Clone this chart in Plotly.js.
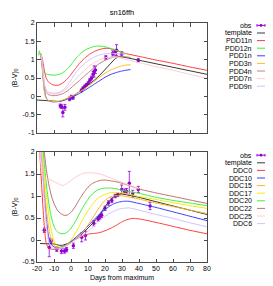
<!DOCTYPE html>
<html>
<head>
<meta charset="utf-8">
<script src="https://cdn.plot.ly/plotly-3.0.1.min.js"></script>
<style>html,body{margin:0;padding:0;background:#fff;}#chart{width:273px;height:286px;}</style>
</head>
<body>
<div id="chart"></div>
<script>
// ---------- tick labels ----------
const xTickVals = [-20, -10, 0, 10, 20, 30, 40, 50, 60, 70, 80];
const xTickText = ['-20', '-10', '0', '10', '20', '30', '40', '50', '60', '70', '80'];
const yTopTickVals = [-1, -0.5, 0, 0.5, 1, 1.5, 2];
const yTopTickText = ['-1', '-0.5', '0', '0.5', '1', '1.5', '2'];
const yBotTickVals = [-0.5, 0, 0.5, 1, 1.5, 2];
const yBotTickText = ['-0.5', '0', '0.5', '1', '1.5', '2'];

// ---------- top panel: observations ----------
const obsTopDays = [-6.3, -5.6, -4.8, -3.6, -0.8, 0.2, 1.2, 6.1, 7.1, 8.1, 9.1, 10.1, 11.1, 12.1, 13, 13.6, 14.4, 20.5, 24.5, 25.8, 26.8, 29.8, 39.6];
const obsTopBV   = [-0.26, -0.28, -0.44, -0.3, -0.07, -0.02, -0.03, 0.16, 0.22, 0.27, 0.31, 0.36, 0.44, 0.5, 0.6, 0.68, 0.72, 1.06, 1.17, 1.2, 1.26, 1.15, 0.98];
const obsTopErr  = [0.05, 0.05, 0.12, 0.08, 0.05, 0.05, 0.05, 0.04, 0.04, 0.04, 0.04, 0.04, 0.05, 0.05, 0.08, 0.15, 0.1, 0.05, 0.07, 0.08, 0.15, 0.07, 0.05];

// ---------- top panel: template and PDD models ----------
const templateTopDays = [-20, -15, -10, -7, -4, -1, 2, 5, 8, 11, 14, 17, 20, 23, 26, 28, 30, 33, 40, 50, 60, 70, 80];
const templateTopBV   = [-0.1, -0.12, -0.14, -0.14, -0.1, -0.04, 0.03, 0.13, 0.23, 0.34, 0.45, 0.58, 0.72, 0.88, 1.03, 1.08, 1.08, 1.05, 0.99, 0.89, 0.79, 0.7, 0.6];

const pdd11nDays = [-17.8, -17, -16.2, -15.3, -14.5, -13, -11, -9, -7, -5, -3, -1, 1, 3, 5, 8, 11, 14, 17, 20, 23, 26, 29, 32, 40, 50, 60, 70, 80];
const pdd11nBV   = [1.17, 1.05, 0.85, 0.62, 0.49, 0.38, 0.32, 0.3, 0.31, 0.36, 0.44, 0.54, 0.66, 0.78, 0.9, 1.04, 1.15, 1.23, 1.28, 1.31, 1.3, 1.26, 1.21, 1.17, 1.09, 0.99, 0.9, 0.8, 0.71];

const pdd12nDays = [-19, -18.6, -18.2, -17.6, -17, -16.2, -15, -13, -11, -9, -7, -5, -3, -1, 1, 3, 5, 7, 9, 11, 13, 15, 17, 19, 21, 23, 25, 27, 29, 31];
const pdd12nBV   = [1.12, 1.24, 1.15, 1.05, 0.85, 0.7, 0.62, 0.59, 0.58, 0.58, 0.6, 0.64, 0.71, 0.8, 0.92, 1.04, 1.14, 1.22, 1.28, 1.32, 1.35, 1.37, 1.37, 1.36, 1.34, 1.31, 1.28, 1.25, 1.22, 1.19];

const pdd1nDays = [-17.6, -17, -16.3, -15.5, -14.5, -13, -11, -9, -7, -5, -3, -1, 1, 3, 5, 8, 11, 14, 17, 20, 23, 26, 29, 32, 35];
const pdd1nBV   = [1.1, 0.85, 0.45, 0.12, -0.05, -0.12, -0.15, -0.15, -0.14, -0.12, -0.09, -0.05, -0.01, 0.03, 0.08, 0.16, 0.25, 0.34, 0.43, 0.52, 0.59, 0.64, 0.68, 0.71, 0.73];

const pdd3nDays = [-17.6, -17, -16.3, -15.5, -14.5, -13, -11, -9, -7, -5, -3, -1, 1, 3, 5, 8, 11, 14, 17, 20, 23, 26, 29, 32, 35];
const pdd3nBV   = [1.08, 0.8, 0.4, 0.08, -0.07, -0.12, -0.14, -0.14, -0.13, -0.1, -0.07, -0.03, 0.02, 0.07, 0.12, 0.21, 0.31, 0.42, 0.53, 0.63, 0.71, 0.77, 0.82, 0.85, 0.86];

const pdd4nDays = [-17.6, -17, -16.3, -15.5, -14.5, -13, -11, -9, -7, -5, -3, -1, 1, 3, 5, 8, 11, 14, 17, 20, 23, 26, 29, 32, 35];
const pdd4nBV   = [1.1, 0.9, 0.55, 0.25, 0.1, 0.04, 0.02, 0.02, 0.04, 0.07, 0.12, 0.19, 0.27, 0.35, 0.43, 0.56, 0.68, 0.8, 0.9, 0.98, 1.04, 1.08, 1.09, 1.08, 1.06];

const pdd7nDays = [-17.6, -17, -16.3, -15.5, -14.5, -13, -11, -9, -7, -5, -3, -1, 1, 3, 5, 8, 11, 14, 17, 20, 23, 26, 29, 32, 40, 50, 60, 70, 80];
const pdd7nBV   = [1.12, 0.95, 0.6, 0.3, 0.15, 0.08, 0.06, 0.06, 0.08, 0.13, 0.2, 0.28, 0.38, 0.48, 0.58, 0.71, 0.83, 0.93, 1.0, 1.05, 1.07, 1.07, 1.05, 1.01, 0.92, 0.81, 0.71, 0.6, 0.49];

const pdd9nDays = [-17.6, -17, -16.3, -15.5, -14.5, -13, -11, -9, -7, -5, -3, -1, 1, 3, 5, 8, 11, 14, 17, 20, 23, 26, 29, 32];
const pdd9nBV   = [1.12, 0.95, 0.62, 0.32, 0.17, 0.11, 0.09, 0.09, 0.11, 0.16, 0.25, 0.38, 0.52, 0.66, 0.76, 0.9, 1.0, 1.08, 1.13, 1.16, 1.17, 1.17, 1.16, 1.15];

// ---------- bottom panel: observations ----------
const obsBotDays = [-15.7, -12.8, -11.6, -8.4, -5.6, -3.8, -2.6, 1.4, 6.3, 8.5, 13.4, 16, 17, 18, 20, 22, 24, 26, 27.5, 29.8, 31.5, 32.7, 34.3, 36.3, 39.6, 46.5];
const obsBotBV   = [0.22, -0.17, -0.03, -0.21, -0.25, -0.25, -0.22, -0.13, 0.06, 0.1, 0.38, 0.48, 0.52, 0.56, 0.72, 0.84, 0.9, 1.0, 1.03, 1.15, 1.1, 1.11, 1.29, 1.05, 1.15, 0.77];
const obsBotErr  = [0.05, 0.21, 0.05, 0.05, 0.06, 0.05, 0.05, 0.06, 0.1, 0.1, 0.06, 0.05, 0.05, 0.05, 0.05, 0.05, 0.05, 0.04, 0.04, 0.1, 0.06, 0.06, 0.27, 0.08, 0.07, 0.08];

// ---------- bottom panel: template and DDC models ----------
const templateBotDays = [-18.2, -14, -10, -7, -5, -2, 1, 4, 7, 10, 13, 16, 19, 22, 25, 28, 30, 33, 40, 50, 60, 70, 80];
const templateBotBV   = [-0.08, -0.08, -0.09, -0.12, -0.12, -0.08, -0.02, 0.06, 0.16, 0.27, 0.39, 0.53, 0.7, 0.86, 0.98, 1.04, 1.05, 1.03, 0.97, 0.87, 0.77, 0.67, 0.58];

const ddc0Days = [-19, -18.5, -17.5, -16.5, -15.5, -14.5, -13, -11, -9, -7, -5, -3, -1, 2, 5, 8, 11, 14, 17, 20, 23, 26, 29, 32, 36, 40, 50, 60, 70, 80];
const ddc0BV   = [2.5, 2.1, 1.4, 0.75, 0.22, -0.08, -0.19, -0.21, -0.21, -0.2, -0.17, -0.13, -0.08, 0.0, 0.06, 0.11, 0.14, 0.15, 0.17, 0.21, 0.26, 0.32, 0.39, 0.45, 0.49, 0.48, 0.4, 0.31, 0.22, 0.14];

const ddc10Days = [-18, -17.3, -16.5, -15.5, -14.5, -13.5, -12.4, -11, -9, -7, -5, -3, -1, 1, 4, 7, 10, 13, 16, 19, 22, 25, 28, 31, 34, 40, 50, 60, 70, 80];
const ddc10BV   = [2.4, 2.0, 1.5, 0.95, 0.5, 0.15, -0.05, -0.13, -0.17, -0.17, -0.15, -0.11, -0.06, 0.0, 0.1, 0.2, 0.32, 0.44, 0.56, 0.66, 0.75, 0.82, 0.86, 0.88, 0.88, 0.83, 0.74, 0.64, 0.54, 0.44];

const ddc15Days = [-18, -17.3, -16.5, -15.5, -14.5, -13.5, -12.5, -11.5, -10.4, -9, -7, -5, -3, -1, 1, 4, 7, 10, 13, 16, 19, 22, 25, 28, 31, 35, 40, 50, 60, 70, 80];
const ddc15BV   = [2.4, 2.0, 1.6, 1.1, 0.7, 0.38, 0.15, 0.0, -0.1, -0.16, -0.18, -0.17, -0.14, -0.09, -0.03, 0.07, 0.18, 0.34, 0.52, 0.7, 0.86, 0.96, 1.0, 1.01, 1.0, 0.97, 0.93, 0.84, 0.76, 0.68, 0.6];

const ddc17Days = [-18, -17, -16, -15, -14, -13, -12, -11, -10, -8.5, -7, -5.5, -4, -2, 0, 2, 4, 6, 8, 10, 12, 14, 16, 18, 21, 24, 27, 30, 34, 40, 50, 60, 70, 80];
const ddc17BV   = [2.5, 2.0, 1.6, 1.2, 0.85, 0.55, 0.3, 0.12, -0.02, -0.12, -0.16, -0.17, -0.15, -0.09, 0.0, 0.12, 0.25, 0.4, 0.54, 0.67, 0.78, 0.88, 0.95, 1.0, 1.05, 1.08, 1.08, 1.07, 1.04, 0.99, 0.92, 0.85, 0.78, 0.72];

const ddc20Days = [-17.5, -16.3, -15, -14, -13, -12, -11, -10, -9, -7, -5, -3, -1, 1, 3, 5, 7, 9, 11, 13, 15, 18, 21, 24, 27, 30, 34, 40, 50, 60, 70, 80];
const ddc20BV   = [2.6, 2.0, 1.45, 1.1, 0.82, 0.6, 0.43, 0.31, 0.23, 0.16, 0.14, 0.16, 0.22, 0.32, 0.45, 0.6, 0.74, 0.87, 0.98, 1.06, 1.12, 1.17, 1.18, 1.18, 1.16, 1.13, 1.1, 1.06, 0.97, 0.9, 0.84, 0.78];

const ddc22Days = [-17, -15.7, -14.5, -13, -11.5, -10, -8, -6, -4, -2, 0, 2, 4, 6, 8, 10, 12, 15, 18, 21, 24, 27, 30, 34, 40, 50, 60, 70, 80];
const ddc22BV   = [2.6, 2.0, 1.6, 1.25, 1.0, 0.83, 0.68, 0.6, 0.56, 0.57, 0.63, 0.73, 0.86, 0.99, 1.1, 1.2, 1.27, 1.33, 1.36, 1.36, 1.34, 1.32, 1.29, 1.24, 1.16, 1.07, 0.99, 0.91, 0.83];

const ddc25Days = [-18.5, -17.8, -17, -16, -14, -12, -10, -8, -6, -4.5, -3, -1, 1, 3, 5, 8, 11, 14, 17, 20, 24, 28, 32, 36, 40];
const ddc25BV   = [2.1, 1.75, 1.5, 1.42, 1.39, 1.37, 1.33, 1.29, 1.25, 1.24, 1.27, 1.32, 1.38, 1.44, 1.48, 1.52, 1.53, 1.52, 1.5, 1.46, 1.4, 1.34, 1.28, 1.22, 1.17];

const ddc6Days = [-18, -17.3, -16.5, -15.5, -14.5, -13.5, -12.5, -11, -9, -7, -5, -3, -1, 1, 4, 7, 10, 13, 16, 19, 22, 25, 28, 31, 34, 40, 50, 60, 70, 80];
const ddc6BV   = [2.5, 2.0, 1.4, 0.8, 0.35, 0.05, -0.1, -0.18, -0.2, -0.2, -0.18, -0.14, -0.09, -0.04, 0.04, 0.11, 0.2, 0.3, 0.41, 0.51, 0.59, 0.65, 0.7, 0.72, 0.73, 0.68, 0.58, 0.49, 0.39, 0.3];

// ---------- series names and colours ----------
const obsColor = '#9400d3';
const topNames   = ['template', 'PDD11n', 'PDD12n', 'PDD1n', 'PDD3n', 'PDD4n', 'PDD7n', 'PDD9n'];
const topColors  = ['#3a3a3a', '#ff3c3c', '#3cf03c', '#3c3cff', '#ffbe28', '#c08080', '#ffcccc', '#d4c2ff'];
const topX = [templateTopDays, pdd11nDays, pdd12nDays, pdd1nDays, pdd3nDays, pdd4nDays, pdd7nDays, pdd9nDays];
const topY = [templateTopBV, pdd11nBV, pdd12nBV, pdd1nBV, pdd3nBV, pdd4nBV, pdd7nBV, pdd9nBV];

const botNames   = ['template', 'DDC0', 'DDC10', 'DDC15', 'DDC17', 'DDC20', 'DDC22', 'DDC25', 'DDC6'];
const botColors  = ['#3a3a3a', '#ff3c3c', '#3c3cff', '#ffb428', '#f0f000', '#3cf03c', '#c07070', '#ffcccc', '#d4c2ff'];
const botX = [templateBotDays, ddc0Days, ddc10Days, ddc15Days, ddc17Days, ddc20Days, ddc22Days, ddc25Days, ddc6Days];
const botY = [templateBotBV, ddc0BV, ddc10BV, ddc15BV, ddc17BV, ddc20BV, ddc22BV, ddc25BV, ddc6BV];

// ---------- build traces ----------
const traces = [];
function addModels(xs, ys, colors, names, xa, ya) {
  for (let i = 0; i < xs.length; i++) {
    const isTemplate = i === 0;
    traces.push({
      x: xs[i], y: ys[i], name: names[i], type: 'scatter', mode: 'lines',
      xaxis: xa, yaxis: ya, hoverinfo: 'skip',
      line: {color: colors[i], width: 1, shape: isTemplate ? 'linear' : 'spline', smoothing: 0.6}
    });
  }
}
// draw order: models after template? gnuplot draws obs first, then template, then models
function addObs(x, y, e, xa, ya) {
  traces.push({
    x: x, y: y, name: 'obs', type: 'scatter', mode: 'markers', xaxis: xa, yaxis: ya,
    marker: {color: obsColor, size: 3.5, symbol: 'circle'},
    error_y: {type: 'data', array: e, visible: true, color: obsColor, thickness: 0.8, width: 1.5}
  });
}
addObs(obsTopDays, obsTopBV, obsTopErr, 'x2', 'y2');
addModels(topX, topY, topColors, topNames, 'x2', 'y2');
addObs(obsBotDays, obsBotBV, obsBotErr, 'x', 'y');
addModels(botX, botY, botColors, botNames, 'x', 'y');

// ---------- geometry helpers (pixel -> paper) ----------
const ML = 37, MR = 66, MT = 23, MB = 24, W = 273, H = 286;
const PW = W - ML - MR, PH = H - MT - MB;
const px = v => (v - ML) / PW;
const py = v => (H - MB - v) / PH;

// ---------- legends (gnuplot style: text then sample) ----------
const annotations = [];
const shapes = [];
function addLegend(names, colors, y0) {
  const all = ['obs'].concat(names);
  const cols = [obsColor].concat(colors);
  const step = 7.6;
  for (let i = 0; i < all.length; i++) {
    const yy = y0 + step * i;
    annotations.push({
      xref: 'paper', yref: 'paper', x: px(254.5), y: py(yy), xanchor: 'right', yanchor: 'middle',
      text: all[i], showarrow: false, font: {size: 7, color: '#000'}
    });
    shapes.push({type: 'line', xref: 'paper', yref: 'paper', x0: px(257), x1: px(265), y0: py(yy), y1: py(yy),
      line: {color: cols[i], width: 1}});
    if (i === 0) {
      shapes.push({type: 'line', xref: 'paper', yref: 'paper', x0: px(257), x1: px(257), y0: py(yy - 1.3), y1: py(yy + 1.3), line: {color: obsColor, width: 1}});
      shapes.push({type: 'line', xref: 'paper', yref: 'paper', x0: px(265), x1: px(265), y0: py(yy - 1.3), y1: py(yy + 1.3), line: {color: obsColor, width: 1}});
      shapes.push({type: 'circle', xref: 'paper', yref: 'paper', x0: px(259.6), x1: px(262.4), y0: py(yy - 1.4), y1: py(yy + 1.4), fillcolor: obsColor, line: {color: obsColor, width: 0}});
    }
  }
}
addLegend(topNames, topColors, 25.4);
addLegend(botNames, botColors, 155.2);

// ---------- axes ----------
const axisCommon = {
  showgrid: false, zeroline: false, showline: true, linecolor: '#4a4a4a', linewidth: 1,
  mirror: 'ticks', ticks: 'inside', ticklen: 3.5, tickwidth: 1, tickcolor: '#4a4a4a',
  tickfont: {size: 7, color: '#000'}, tickmode: 'array', automargin: false
};
const topDomainLow = (H - MB - 133) / PH;
const botDomainHigh = (H - MB - 152) / PH;

const layout = {
  width: W, height: H,
  margin: {l: ML, r: MR, t: MT, b: MB, pad: 0},
  paper_bgcolor: '#ffffff', plot_bgcolor: '#ffffff',
  font: {family: 'Liberation Sans, Arial, sans-serif', size: 7, color: '#000'},
  showlegend: false,
  title: {text: 'sn16ffh', x: 0.5, xref: 'paper', xanchor: 'center', y: 1 - 12 / H, yref: 'container', yanchor: 'middle', font: {size: 7.5}},
  xaxis: Object.assign({}, axisCommon, {domain: [0, 1], anchor: 'y', range: [-20, 80], tickvals: xTickVals, ticktext: xTickText,
    title: {text: 'Days from maximum', font: {size: 7}, standoff: 3}}),
  yaxis: Object.assign({}, axisCommon, {domain: [0, botDomainHigh], anchor: 'x', range: [-0.5, 2], tickvals: yBotTickVals, ticktext: yBotTickText,
    title: {text: '(B-V)<sub>0</sub>', font: {size: 7}, standoff: 4}}),
  xaxis2: Object.assign({}, axisCommon, {domain: [0, 1], anchor: 'y2', range: [-20, 80], tickvals: xTickVals, ticktext: xTickText, showticklabels: false}),
  yaxis2: Object.assign({}, axisCommon, {domain: [topDomainLow, 1], anchor: 'x2', range: [-1, 2], tickvals: yTopTickVals, ticktext: yTopTickText,
    title: {text: '(B-V)<sub>0</sub>', font: {size: 7}, standoff: 4}}),
  annotations: annotations,
  shapes: shapes
};

Plotly.newPlot('chart', traces, layout, {staticPlot: true, displayModeBar: false});
</script>
</body>
</html>
